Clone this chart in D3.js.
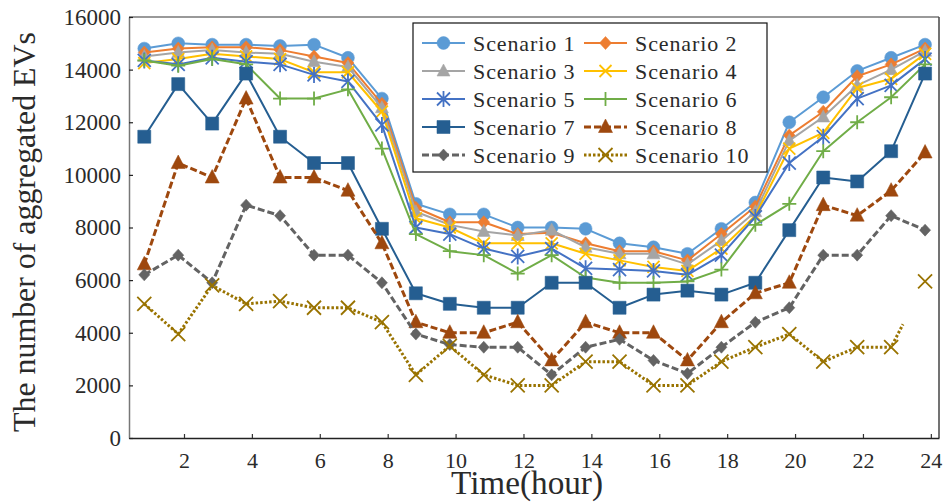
<!DOCTYPE html>
<html>
<head>
<meta charset="utf-8">
<script src="https://cdn.jsdelivr.net/npm/d3@7/dist/d3.min.js"></script>
<style>
  html, body { margin: 0; padding: 0; background: #fff; }
  svg { display: block; }
  text { font-family: "Liberation Serif", "Times New Roman", serif; fill: #2a2a2a; }
</style>
</head>
<body>
<svg id="chart" width="952" height="502"></svg>
<script>
// Hours of the day (sample index)
const hours = d3.range(1, 25);

// Aggregated EV counts per scenario, one value per hour
const scenario1  = [14800, 15000, 14950, 14950, 14900, 14950, 14450, 12900, 8900, 8500, 8500, 8000, 8000, 7950, 7400, 7250, 7000, 7950, 8950, 12000, 12950, 13950, 14450, 14950];
const scenario2  = [14650, 14800, 14850, 14850, 14750, 14500, 14250, 12700, 8750, 8200, 8200, 7750, 7800, 7400, 7100, 7100, 6750, 7750, 8800, 11500, 12400, 13750, 14200, 14800];
const scenario3  = [14500, 14650, 14750, 14650, 14600, 14300, 14100, 12550, 8600, 8100, 7850, 7700, 7900, 7250, 7000, 7000, 6600, 7500, 8600, 11300, 12200, 13400, 14000, 14700];
const scenario4  = [14250, 14400, 14600, 14500, 14400, 13900, 13900, 12400, 8350, 8000, 7400, 7400, 7400, 7000, 6750, 6500, 6350, 7200, 8450, 11000, 11600, 13300, 13650, 14600];
const scenario5  = [14350, 14200, 14450, 14300, 14200, 13800, 13550, 11900, 8000, 7750, 7200, 6900, 7200, 6450, 6400, 6350, 6200, 6950, 8400, 10450, 11450, 12900, 13400, 14400];
const scenario6  = [14350, 14150, 14400, 14200, 12900, 12900, 13250, 11000, 7750, 7100, 6950, 6250, 6950, 6100, 5900, 5900, 5950, 6400, 8100, 8900, 10900, 12000, 12950, 14200];
const scenario7  = [11450, 13450, 11950, 13850, 11450, 10450, 10450, 7950, 5500, 5100, 4950, 4950, 5900, 5900, 4950, 5450, 5600, 5450, 5900, 7900, 9900, 9750, 10900, 13850];
const scenario8  = [6600, 10450, 9900, 12900, 9900, 9900, 9400, 7400, 4400, 4000, 4000, 4400, 2950, 4400, 4000, 4000, 2950, 4400, 5500, 5900, 8850, 8450, 9400, 10850];
const scenario9  = [6200, 6950, 5900, 8850, 8450, 6950, 6950, 5900, 3950, 3550, 3450, 3450, 2400, 3450, 3750, 2950, 2450, 3450, 4400, 4950, 6950, 6950, 8450, 7900];
const scenario10 = [5100, 3950, 5800, 5100, 5200, 4950, 4950, 4400, 2400, 3500, 2400, 2000, 2000, 2900, 2900, 2000, 2000, 2900, 3450, 3950, 2900, 3450, 3450, 5950];

// Axis ticks
const xTicks = [2, 4, 6, 8, 10, 12, 14, 16, 18, 20, 22, 24];
const yTicks = [0, 2000, 4000, 6000, 8000, 10000, 12000, 14000, 16000];

const names  = ["Scenario 1", "Scenario 2", "Scenario 3", "Scenario 4", "Scenario 5",
                "Scenario 6", "Scenario 7", "Scenario 8", "Scenario 9", "Scenario 10"];
const values = [scenario1, scenario2, scenario3, scenario4, scenario5,
                scenario6, scenario7, scenario8, scenario9, scenario10];

// Visual style per scenario
const styles = [
  { color: "#5B9BD5", marker: "circle",   width: 2,   dash: null },
  { color: "#ED7D31", marker: "diamond",  width: 2,   dash: null },
  { color: "#A5A5A5", marker: "triangle", width: 2,   dash: null },
  { color: "#FFC000", marker: "x",        width: 2,   dash: null },
  { color: "#4472C4", marker: "star",     width: 2,   dash: null },
  { color: "#70AD47", marker: "plus",     width: 2,   dash: null },
  { color: "#255E91", marker: "square",   width: 2,   dash: null },
  { color: "#9E480E", marker: "triangleL",width: 3,   dash: "7,3" },
  { color: "#636363", marker: "diamondS", width: 3,   dash: "7,3" },
  { color: "#997300", marker: "xL",       width: 3,   dash: "2.5,2" }
];

// Samples are logged slightly before each hour mark
const sampleOffset = -0.17;

const FONT = "'Liberation Serif', 'Times New Roman', serif";
const svg = d3.select("#chart");
const plot = { left: 129, right: 939, top: 17, bottom: 438 };

const x = d3.scaleLinear().domain([0.38, 24.24]).range([plot.left, plot.right]);
const y = d3.scaleLinear().domain([0, 16000]).range([plot.bottom, plot.top]);

// Frame
svg.append("line").attr("x1", plot.left).attr("x2", plot.right).attr("y1", plot.top).attr("y2", plot.top)
  .attr("stroke", "#777").attr("stroke-width", 1.5);
svg.append("line").attr("x1", plot.right).attr("x2", plot.right).attr("y1", plot.top).attr("y2", plot.bottom)
  .attr("stroke", "#444").attr("stroke-width", 1.5);

// Axes
const xAxis = d3.axisBottom(x).tickValues(xTicks).tickSizeInner(-4).tickSizeOuter(0).tickPadding(14)
  .tickFormat(d3.format("d"));
const yAxis = d3.axisLeft(y).tickValues(yTicks).tickSizeInner(-4).tickSizeOuter(0).tickPadding(8)
  .tickFormat(d3.format("d"));

const gx = svg.append("g").attr("transform", `translate(0,${plot.bottom})`).call(xAxis)
  .attr("font-family", FONT);
gx.select(".domain").attr("stroke", "#222").attr("stroke-width", 1.5);
gx.selectAll(".tick line").attr("stroke", "#333").attr("stroke-width", 1.2);
gx.selectAll(".tick text").attr("font-size", 22).attr("fill", "#2a2a2a").style("font-family", FONT);

const gy = svg.append("g").attr("transform", `translate(${plot.left},0)`).call(yAxis)
  .attr("font-family", FONT);
gy.select(".domain").attr("stroke", "#777").attr("stroke-width", 1.5);
gy.selectAll(".tick line").attr("stroke", "#222").attr("stroke-width", 1.2);
gy.selectAll(".tick text").attr("font-size", 23).attr("fill", "#2a2a2a").style("font-family", FONT);

// Axis titles
svg.append("text")
  .attr("x", 527).attr("y", 494)
  .attr("text-anchor", "middle")
  .attr("font-size", 34)
  .attr("textLength", 152).attr("lengthAdjust", "spacingAndGlyphs")
  .text("Time(hour)");

svg.append("text")
  .attr("transform", "translate(35,232) rotate(-90)")
  .attr("text-anchor", "middle")
  .attr("font-size", 31)
  .attr("textLength", 400).attr("lengthAdjust", "spacingAndGlyphs")
  .text("The number of aggregated EVs");

// Marker shapes
function markerPath(type) {
  switch (type) {
    case "diamond":   return "M0,-6.5L6,0L0,6.5L-6,0Z";
    case "diamondS":  return "M0,-6L5.5,0L0,6L-5.5,0Z";
    case "triangle":  return "M0,-7L6.5,5L-6.5,5Z";
    case "triangleL": return "M0,-8L7,5.5L-7,5.5Z";
    case "square":    return "M-6.5,-6.5H6.5V6.5H-6.5Z";
    case "x":         return "M-6,-6L6,6M-6,6L6,-6";
    case "xL":        return "M-7,-7L7,7M-7,7L7,-7";
    case "plus":      return "M-7,0H7M0,-7V7";
    case "star":      return "M0,-8V8M-6.5,-6.5L6.5,6.5M-6.5,6.5L6.5,-6.5";
    default:          return d3.symbol(d3.symbolCircle, 130)();
  }
}
const strokeOnly = new Set(["x", "xL", "plus", "star"]);

function drawMarker(sel, st) {
  const p = sel.append("path").attr("d", markerPath(st.marker));
  if (strokeOnly.has(st.marker)) {
    p.attr("fill", "none").attr("stroke", st.color).attr("stroke-width", 1.8);
  } else {
    p.attr("fill", st.color).attr("stroke", st.color).attr("stroke-opacity", 0.55).attr("stroke-width", 1);
  }
}

const line = d3.line().x(d => x(d[0])).y(d => y(d[1]));

values.forEach((vals, i) => {
  const st = styles[i];
  const g = svg.append("g");
  let pts = hours.map((h, k) => [h + sampleOffset, vals[k]]);
  let linePts = pts;
  if (i === 9) {
    // Last scenario's trace stops partway toward the final sample
    const a = pts[22], b = pts[23], f = 0.35;
    linePts = pts.slice(0, 23).concat([[a[0] + (b[0] - a[0]) * f, a[1] + (b[1] - a[1]) * f]]);
  }
  g.append("path")
    .attr("d", line(linePts))
    .attr("fill", "none")
    .attr("stroke", st.color)
    .attr("stroke-width", st.width)
    .attr("stroke-linejoin", "round")
    .attr("stroke-dasharray", st.dash);
  pts.forEach(p => {
    const m = g.append("g").attr("transform", `translate(${x(p[0])},${y(p[1])})`);
    drawMarker(m, st);
  });
});

// Legend
const legend = svg.append("g");
legend.append("rect").attr("x", 413).attr("y", 23).attr("width", 354).attr("height", 149)
  .attr("fill", "#fff").attr("stroke", "#111").attr("stroke-width", 1.2);

names.forEach((name, i) => {
  const st = styles[i];
  const col = i % 2, row = Math.floor(i / 2);
  const lx = col === 0 ? 422 : 584;
  const ly = 43 + row * 28;
  const item = legend.append("g").attr("transform", `translate(${lx},${ly})`);
  item.append("line").attr("x1", 0).attr("x2", 43).attr("y1", 0).attr("y2", 0)
    .attr("stroke", st.color).attr("stroke-width", st.width)
    .attr("stroke-dasharray", st.dash);
  const m = item.append("g").attr("transform", "translate(21.5,0)");
  drawMarker(m, st);
  item.append("text").attr("x", 51).attr("y", 8)
    .attr("font-size", 22).attr("letter-spacing", "0.9px")
    .attr("font-family", FONT)
    .text(name);
});
</script>
</body>
</html>
